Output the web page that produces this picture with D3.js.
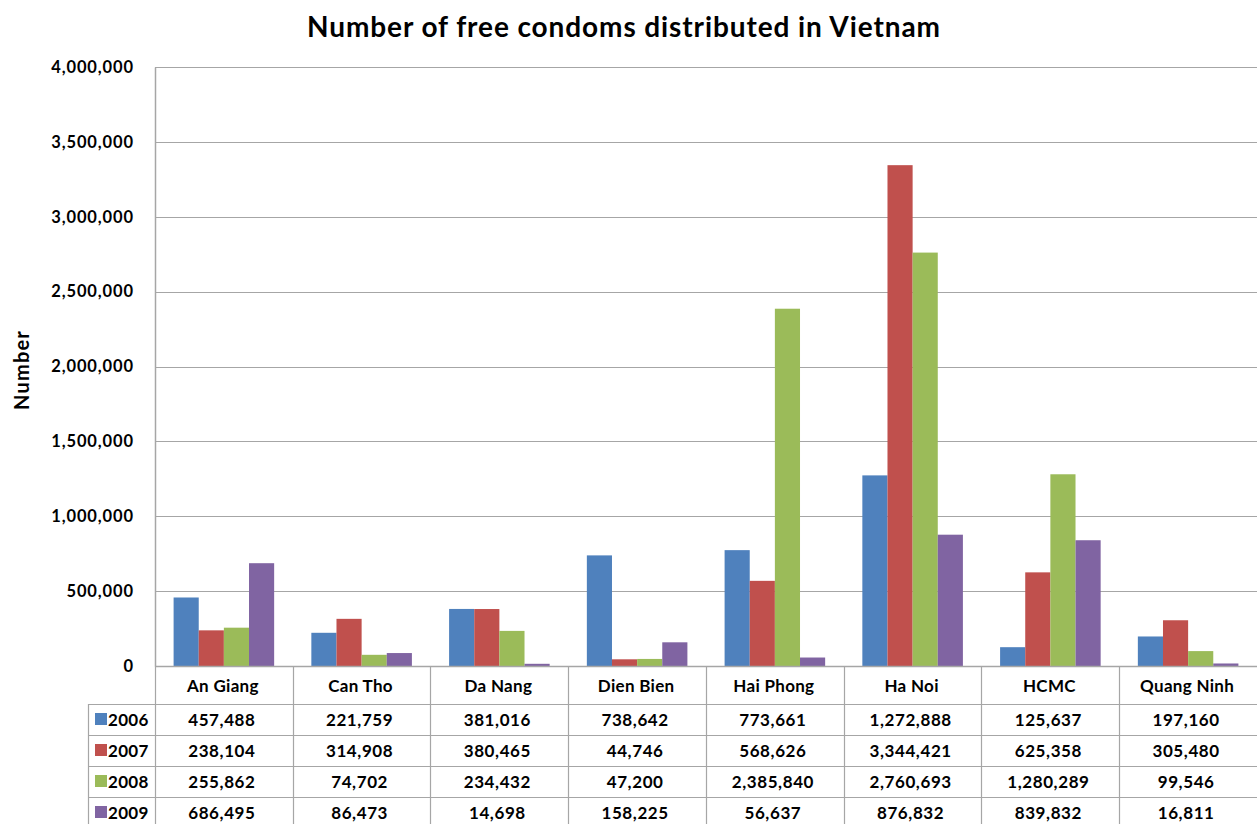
<!DOCTYPE html>
<html><head><meta charset="utf-8">
<script src="https://cdn.jsdelivr.net/npm/d3@7"></script>
<style>body{margin:0;background:#fff;}svg{display:block;font-family:Lato,"Open Sans",sans-serif;}</style>
</head><body><svg id="c" width="1257" height="824"></svg>
<script>
const categories = ["An Giang","Can Tho","Da Nang","Dien Bien","Hai Phong","Ha Noi","HCMC","Quang Ninh"];
const seriesNames = ["2006","2007","2008","2009"];
const v2006 = [457488,221759,381016,738642,773661,1272888,125637,197160];
const v2007 = [238104,314908,380465,44746,568626,3344421,625358,305480];
const v2008 = [255862,74702,234432,47200,2385840,2760693,1280289,99546];
const v2009 = [686495,86473,14698,158225,56637,876832,839832,16811];
const yTicks = [0,500000,1000000,1500000,2000000,2500000,3000000,3500000,4000000];
const colors = ["#4F81BD","#C0504D","#9BBB59","#8064A2"];
const series = [v2006,v2007,v2008,v2009];

const svg = d3.select("#c");
const L = 155, R = 1257, T = 67, B = 666;
const x = d3.scaleBand().domain(categories).range([L,R]).paddingInner(0.27).paddingOuter(0.135);
const xs = d3.scaleBand().domain(seriesNames).range([0,x.bandwidth()]);
const y = d3.scaleLinear().domain([0,4000000]).range([B,T]);
const fmt = d3.format(",");
const grid = "#a6a6a6";

svg.append("text").attr("x",624).attr("y",37).attr("text-anchor","middle")
  .attr("font-size",28).attr("letter-spacing",0.9).attr("font-weight","bold").text("Number of free condoms distributed in Vietnam");

svg.append("g").selectAll("line").data(yTicks.filter(d=>d>0)).join("line")
  .attr("x1",L).attr("x2",R).attr("y1",d=>Math.round(y(d))+0.5).attr("y2",d=>Math.round(y(d))+0.5)
  .attr("stroke",grid).attr("stroke-width",1.2);

const ya = svg.append("g").attr("transform",`translate(${L},0)`)
  .call(d3.axisLeft(y).tickValues(yTicks).tickFormat(fmt).tickSize(0).tickPadding(21));
ya.select(".domain").attr("stroke",grid).attr("stroke-width",1.5);
ya.selectAll("text").attr("font-size",16.5).attr("letter-spacing",0.9).attr("font-weight","bold").attr("fill","#000").attr("font-family","Lato,sans-serif");

svg.append("text").attr("transform","translate(29,370) rotate(-90)").attr("text-anchor","middle")
  .attr("font-size",20).attr("letter-spacing",1.2).attr("font-weight","bold").text("Number");

seriesNames.forEach((s,si)=>{
  svg.append("g").selectAll("rect").data(categories).join("rect")
    .attr("x",(c)=>x(c)+xs(s)).attr("width",xs.bandwidth())
    .attr("y",(c,i)=>y(series[si][i])).attr("height",(c,i)=>B-y(series[si][i]))
    .attr("fill",colors[si]);
});

const bounds = categories.map(c=>x(c)-x.step()*x.paddingInner()/2);
bounds.push(R);
const rowY = [B,704,735,766,797,828];
const tg = svg.append("g");
tg.append("line").attr("x1",L).attr("x2",R).attr("y1",B+0.5).attr("y2",B+0.5).attr("stroke",grid).attr("stroke-width",1.5);
[704,735,766,797].forEach(yy=>{
  tg.append("line").attr("x1",88).attr("x2",R).attr("y1",yy+0.5).attr("y2",yy+0.5).attr("stroke",grid).attr("stroke-width",1.2);
});
bounds.forEach((bx,i)=>{
  if(i===bounds.length-1) return;
  tg.append("line").attr("x1",Math.round(bx)+0.5).attr("x2",Math.round(bx)+0.5).attr("y1",B).attr("y2",824).attr("stroke",grid).attr("stroke-width",1.2);
});
tg.append("line").attr("x1",88.5).attr("x2",88.5).attr("y1",704).attr("y2",824).attr("stroke",grid).attr("stroke-width",1.2);

const cellFont = 17;
categories.forEach((c,i)=>{
  tg.append("text").attr("x",(bounds[i]+bounds[i+1])/2 - 1).attr("y",692).attr("text-anchor","middle")
    .attr("font-size",cellFont).attr("letter-spacing",0.3).attr("font-weight","bold").text(c);
});
seriesNames.forEach((s,si)=>{
  const cy = (rowY[si+1]+rowY[si+2])/2;
  tg.append("rect").attr("x",95).attr("y",cy-6.5).attr("width",12).attr("height",12).attr("fill",colors[si]);
  tg.append("text").attr("x",108).attr("y",cy+6).attr("font-size",cellFont).attr("letter-spacing",0.3).attr("font-weight","bold").text(s);
  categories.forEach((c,i)=>{
    tg.append("text").attr("x",(bounds[i]+bounds[i+1])/2 - 2).attr("y",cy+6).attr("text-anchor","middle")
      .attr("font-size",cellFont).attr("letter-spacing",0.6).attr("font-weight","bold").text(fmt(series[si][i]));
  });
});
</script></body></html>
